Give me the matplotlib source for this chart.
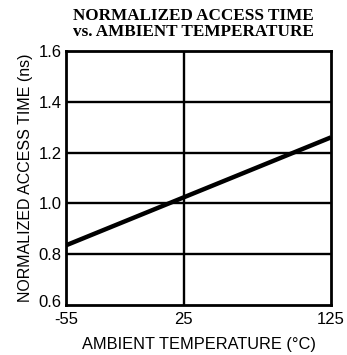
import numpy as np
import matplotlib
matplotlib.use('Agg')
import matplotlib.pyplot as plt
import matplotlib.transforms as mtransforms

# data
temp = [-55, 125]
access = [0.835, 1.26]
xticks = [-55, 25, 125]
yticks = [0.6, 0.8, 1.0, 1.2, 1.4, 1.6]

plt.rcParams['font.family'] = ['Liberation Sans', 'DejaVu Sans']

fig = plt.figure(figsize=(3.47, 3.55), dpi=100)
ax = fig.add_axes([66 / 347, 1 - 305 / 355, 265 / 347, 254 / 355])

for y in yticks[1:-1]:
  ax.axhline(y, color='black', lw=1.7, zorder=1)
ax.axvline(25, color='black', lw=1.7, zorder=1)

ax.plot(temp, access, color='black', lw=3.2, solid_capstyle='butt', zorder=3)

ax.set_xlim(-55, 125)
ax.set_ylim(0.6, 1.6)
ax.set_xticks(xticks)
ax.set_xticklabels([str(t) for t in xticks])
ax.set_yticks(yticks)
ax.set_yticklabels(['{:.1f}'.format(t) for t in yticks])
ax.tick_params(length=0, labelsize=12)
ax.tick_params(axis='x', pad=5)
ax.tick_params(axis='y', pad=3)
for s in ax.spines.values():
  s.set_linewidth(2.0)

# nudge the lowest y label up so it clears -55, as in the original
lbl = ax.get_yticklabels()[0]
lbl.set_transform(lbl.get_transform() + mtransforms.ScaledTranslation(0, 4 / 100, fig.dpi_scale_trans))

ax.set_xlabel('AMBIENT TEMPERATURE (°C)', fontsize=11.8, labelpad=7)
ax.set_ylabel('NORMALIZED ACCESS TIME (ns)', fontsize=11.5, labelpad=4)
fig.text(193 / 347, 1 - 24 / 355, 'NORMALIZED ACCESS TIME\nvs. AMBIENT TEMPERATURE',
         ha='center', va='center', family='Liberation Serif', weight='bold',
         fontsize=12.3, linespacing=1.05)

fig.savefig('out.png', dpi=100)
